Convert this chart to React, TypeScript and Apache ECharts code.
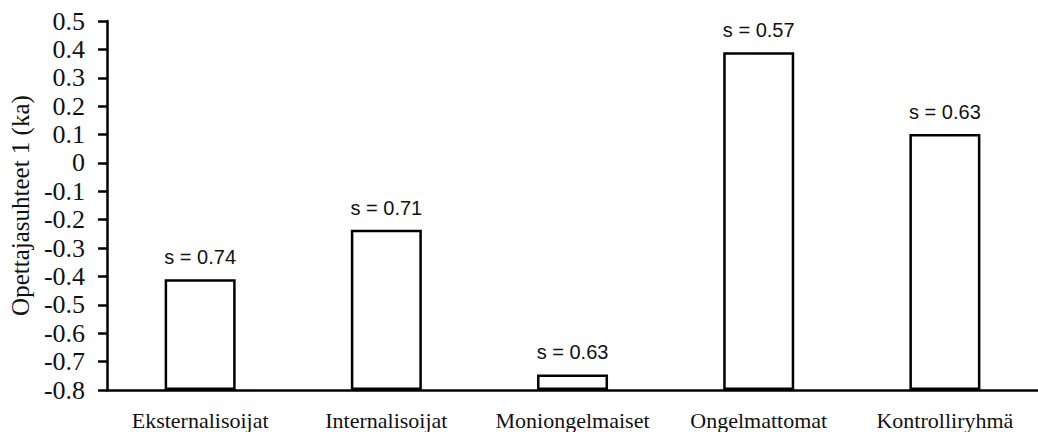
import React, { useEffect, useRef } from "react";
import * as echarts from "echarts";

const categories = ["Eksternalisoijat", "Internalisoijat", "Moniongelmaiset", "Ongelmattomat", "Kontrolliryhmä"];
const means = [-0.41, -0.235, -0.745, 0.39, 0.102];
const sdLabels = ["s = 0.74", "s = 0.71", "s = 0.63", "s = 0.57", "s = 0.63"];
const yMin = -0.8;
const yMax = 0.5;
const yStep = 0.1;
const yName = "Opettajasuhteet 1 (ka)";

const serif = "'Liberation Serif', 'Times New Roman', serif";

export default function App() {
  const ref = useRef<HTMLDivElement>(null);
  useEffect(() => {
    if (!ref.current) return;
    const chart = echarts.init(ref.current, undefined, { renderer: "svg" });
    chart.setOption({
      animation: false,
      backgroundColor: "#ffffff",
      textStyle: { fontFamily: serif, color: "#111" },
      grid: { left: 101, top: 21, width: 945, height: 369 },
      xAxis: {
        type: "category",
        data: categories,
        axisLine: { show: true, onZero: false, lineStyle: { color: "#000", width: 2.5 } },
        axisTick: { show: false },
        axisLabel: {
          color: "#111",
          fontFamily: serif,
          fontSize: 22,
          margin: 19,
          interval: 0,
        },
      },
      yAxis: {
        type: "value",
        min: yMin,
        max: yMax,
        interval: yStep,
        startValue: yMin,
        name: yName,
        nameLocation: "middle",
        nameGap: 64,
        nameRotate: 90,
        nameTextStyle: { color: "#111", fontFamily: serif, fontSize: 25 },
        splitLine: { show: false },
        axisLine: { show: true, lineStyle: { color: "#000", width: 2.5 } },
        axisTick: { show: true, length: 9, lineStyle: { color: "#000", width: 2.5 } },
        axisLabel: {
          show: true,
          margin: 22,
          formatter: (v: number) => "{t|" + String(parseFloat(Number(v).toFixed(1))) + "}",
          rich: {
            t: { color: "#111", fontFamily: serif, fontSize: 26 },
          },
        },
      },
      series: [
        {
          type: "bar",
          data: means,
          barWidth: 71,
          itemStyle: { color: "#ffffff", borderColor: "#000", borderWidth: 2.5 },
          label: {
            show: true,
            position: "top",
            distance: 12,
            color: "#111",
            fontFamily: "'Liberation Sans', Arial, sans-serif",
            fontSize: 20,
            formatter: (p: any) => sdLabels[p.dataIndex],
          },
        },
      ],
    });
    return () => chart.dispose();
  }, []);
  return (
    <div
      ref={ref}
      style={{ position: "absolute", left: 0, top: 0, width: 1038, height: 432 }}
    />
  );
}
